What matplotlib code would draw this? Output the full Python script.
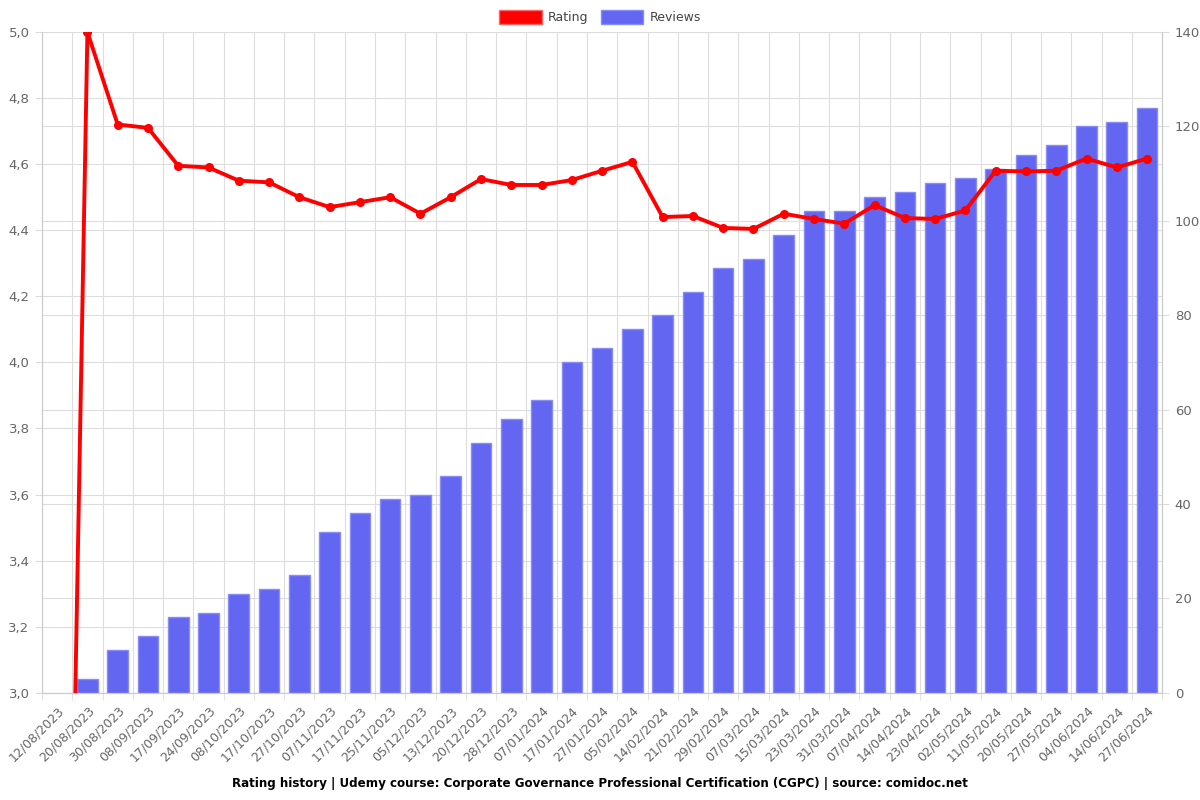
import matplotlib
matplotlib.use('Agg')
import matplotlib.pyplot as plt
from matplotlib.patches import Patch
from matplotlib.ticker import FuncFormatter, FixedLocator
import numpy as np

dates = ['12/08/2023','20/08/2023','30/08/2023','08/09/2023','17/09/2023','24/09/2023',
         '08/10/2023','17/10/2023','27/10/2023','07/11/2023','17/11/2023','25/11/2023',
         '05/12/2023','13/12/2023','20/12/2023','28/12/2023','07/01/2024','17/01/2024',
         '27/01/2024','05/02/2024','14/02/2024','21/02/2024','29/02/2024','07/03/2024',
         '15/03/2024','23/03/2024','31/03/2024','07/04/2024','14/04/2024','23/04/2024',
         '02/05/2024','11/05/2024','20/05/2024','27/05/2024','04/06/2024','14/06/2024',
         '27/06/2024']
rating = [0, 5.0, 4.72, 4.71, 4.595, 4.59, 4.55, 4.545, 4.50, 4.47, 4.485, 4.50,
          4.45, 4.50, 4.555, 4.537, 4.537, 4.552, 4.58, 4.607, 4.44, 4.443, 4.407,
          4.404, 4.45, 4.434, 4.42, 4.476, 4.437, 4.434, 4.46, 4.58, 4.578, 4.58,
          4.617, 4.59, 4.617]
reviews = [0, 3, 9, 12, 16, 17, 21, 22, 25, 34, 38, 41, 42, 46, 53, 58, 62, 70, 73,
           77, 80, 85, 90, 92, 97, 102, 102, 105, 106, 108, 109, 111, 114, 116, 120,
           121, 124]

red = '#ff0000'
blue = '#6366f1'
grid_c = '#dddddd'
txt_c = '#666666'

x = np.arange(len(dates))
fig = plt.figure(figsize=(12, 8), dpi=100)
ax = fig.add_axes([0.035, 0.134, 0.9335, 0.826])
ax2 = ax.twinx()

# bars on the bottom axes (reviews, right scale)
lw = [0 if r == 0 else 1 for r in reviews]
ax.bar(x, reviews, width=0.68, color=blue, edgecolor='#8a8cf5', linewidth=lw, zorder=2)
ax.set_ylim(0, 140)
ax.set_xlim(-0.5, len(dates) - 0.5)
ax.yaxis.tick_right()
ax.set_yticks(np.arange(0, 141, 20))
ax.grid(axis='y', color=grid_c, linewidth=0.8, zorder=0)
ax.set_axisbelow(True)
# rating grid lines drawn behind bars too
for v in np.arange(3.0, 5.01, 0.2):
    ax.axhline((v - 3.0) / 2.0 * 140, color=grid_c, linewidth=0.8, zorder=0)

ax.set_xticks(x)
ax.set_xticklabels(dates, rotation=45, ha='right', rotation_mode='anchor',
                   fontsize=9, color=txt_c)
ax.tick_params(axis='x', which='major', length=0, pad=8)
ax.xaxis.set_minor_locator(FixedLocator(np.arange(-0.5, len(dates), 1)))
ax.tick_params(axis='x', which='minor', length=5, color=grid_c)
ax.grid(axis='x', which='minor', color=grid_c, linewidth=0.8, zorder=0)
ax.tick_params(axis='y', length=5, color=grid_c, labelcolor=txt_c, labelsize=9.5, pad=4)

# rating line on twin axes, moved to the left side
ax2.plot(x, rating, color=red, linewidth=2.8, marker='o', markersize=5.5, zorder=5)
ax2.set_ylim(3.0, 5.0)
ax2.yaxis.tick_left()
ax2.set_yticks(np.arange(3.0, 5.01, 0.2))
ax2.yaxis.set_major_formatter(FuncFormatter(lambda v, p: ('%.1f' % v).replace('.', ',')))
ax2.tick_params(axis='y', length=5, color=grid_c, labelcolor=txt_c, labelsize=9.5, pad=4)

for a in (ax, ax2):
    for s in a.spines.values():
        s.set_color('#cccccc')
        s.set_linewidth(0.8)
    a.spines['top'].set_visible(False)

handles = [Patch(facecolor=red, edgecolor='#ff6666', label='Rating'),
           Patch(facecolor=blue, edgecolor='#8a8cf5', label='Reviews')]
fig.legend(handles=handles, loc='upper center', bbox_to_anchor=(0.5, 1.001), ncol=2,
           frameon=False, fontsize=9, handlelength=3.4, handleheight=1.3,
           columnspacing=1.0, handletextpad=0.5, labelcolor='#444444')

fig.text(0.5, 0.021, 'Rating history | Udemy course: Corporate Governance Professional '
         'Certification (CGPC) | source: comidoc.net', ha='center', va='center',
         fontsize=8.6, fontweight='bold')

plt.savefig('out.png', dpi=100)
